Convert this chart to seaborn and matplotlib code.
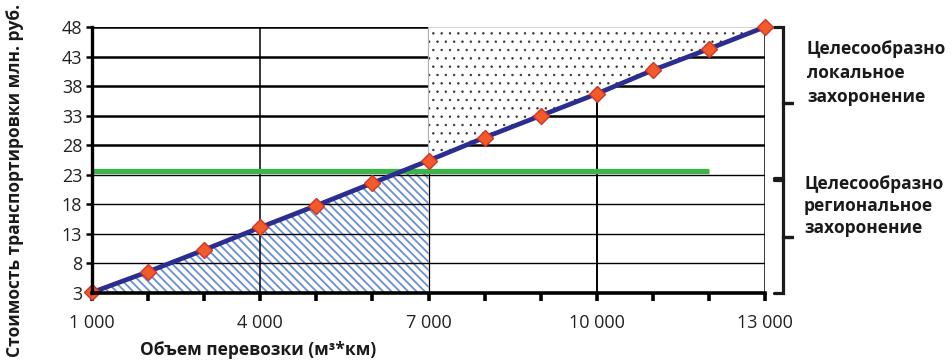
import numpy as np
import pandas as pd
import matplotlib
matplotlib.use("Agg")
import matplotlib as mpl
import matplotlib.pyplot as plt
import matplotlib.transforms as mtransforms
import seaborn as sns

# ---- data ----
volume = [1000, 2000, 3000, 4000, 5000, 6000, 7000, 8000, 9000, 10000, 11000, 12000, 13000]
cost = [3.1, 6.6, 10.3, 14.1, 17.8, 21.6, 25.4, 29.3, 33.0, 36.7, 40.7, 44.3, 48.0]
threshold = 23.7
threshold_x = [1000, 12000]
split_x = 7000
y_ticks = [3, 8, 13, 18, 23, 28, 33, 38, 43, 48]
x_major = [1000, 4000, 7000, 10000, 13000]
x_labels = ["1 000", "4 000", "7 000", "10 000", "13 000"]
y_label = "Стоимость транспортировки млн. руб."
x_label = "Объем перевозки (м³*км)"
text_local = "Целесообразно\nлокальное\nзахоронение"
text_regional = "Целесообразно\nрегиональное\nзахоронение"

sns.set_theme(style="white")
plt.rcParams["font.family"] = ["Open Sans", "DejaVu Sans"]

df = pd.DataFrame({"volume": volume, "cost": cost})

fig = plt.figure(figsize=(9.52, 3.63), dpi=100)
ax = fig.add_axes([92 / 952, 70 / 363, 673 / 952, 266 / 363])

ymin, ymax = y_ticks[0], y_ticks[-1]
xmin, xmax = volume[0], volume[-1]

# gridlines
hw = [1.0 if t <= 23 else 1.8 for t in y_ticks]
ax.hlines(y_ticks[1:], xmin, xmax, colors="black", linewidths=hw[1:], zorder=1)
ax.vlines([4000, 7000, 10000], ymin, ymax, colors="black", linewidths=[1.1, 0.9, 1.4], zorder=1)

def set_hlw(coll, lw):
    if hasattr(coll, "set_hatch_linewidth"):
        coll.set_hatch_linewidth(lw)

# hatched region (regional)
vol = np.array(volume, dtype=float)
cst = np.array(cost, dtype=float)
xs = np.linspace(xmin, split_x, 601)
ys = np.minimum(np.interp(xs, vol, cst), threshold)
mpl.rcParams["hatch.linewidth"] = 1.3
c1 = ax.fill_between(xs, ymin, ys, facecolor="none", edgecolor="#6b8fd4", hatch=r"\\\\",
                     linewidth=0, zorder=0.5)
set_hlw(c1, 1.3)

# dotted region (local)
mask = vol >= split_x
mpl.rcParams["hatch.linewidth"] = 0.5
c2 = ax.fill_between(vol[mask], cst[mask], ymax, facecolor="white", edgecolor="#333333",
                     hatch="..", linewidth=0, zorder=2)
set_hlw(c2, 0.5)
ax.fill_between(vol[mask], cst[mask], ymax, facecolor="none", edgecolor="#b0b0b0",
                linewidth=0.8, zorder=2.1)

# right border line
ax.vlines([xmax], ymin, ymax, colors="black", linewidths=1.8, zorder=2.5)

# threshold green line
ax.plot(threshold_x, [threshold, threshold], color="#3cb44b", lw=3.8, zorder=3,
        solid_capstyle="butt")

# main line
sns.lineplot(data=df, x="volume", y="cost", ax=ax, color="#2b2e8f", lw=3.4,
             marker="D", markersize=8, markerfacecolor="#f15a29",
             markeredgecolor="#d0352a", markeredgewidth=1.0, zorder=4, clip_on=False)

ax.set_xlim(xmin, xmax)
ax.set_ylim(ymin, ymax)
ax.set_yticks(y_ticks)
ax.set_yticklabels([str(t) for t in y_ticks], fontsize=13, color="#222222")
ax.set_xticks(x_major)
ax.set_xticklabels(x_labels, fontsize=13, color="#222222")
ax.set_xticks(volume, minor=True)
ax.tick_params(axis="x", which="both", direction="out", length=6, width=2.6,
               color="black", pad=9, bottom=True)
ax.tick_params(axis="y", which="major", direction="out", length=4, width=1.8,
               color="black", pad=3, left=True)
ax.set_xlabel("")
ax.set_ylabel("")
for s in ["top", "right"]:
    ax.spines[s].set_visible(False)
ax.spines["left"].set_linewidth(2.4)
ax.spines["bottom"].set_linewidth(2.6)
ax.spines["left"].set_color("black")
ax.spines["bottom"].set_color("black")
ax.spines["left"].set_zorder(5)
ax.spines["bottom"].set_zorder(5)

# axis labels
fig.text(15 / 952, 1 - 180 / 363, y_label, rotation=90, ha="center", va="center",
         fontsize=12.5, fontweight="bold", color="#1a1a1a")
fig.text(258 / 952, 1 - 350 / 363, x_label, ha="center", va="center",
         fontsize=12.5, fontweight="bold", color="#1a1a1a")

# braces
tr = mtransforms.blended_transform_factory(ax.transAxes, ax.transData)
def brace(y0, y1, ytip, xv=1.027, xh=1.013, xt=1.042):
    ax.plot([xh, xv, xv, xt, xv, xv, xh], [y0, y0, ytip, ytip, ytip, y1, y1],
            transform=tr, color="#1a1a1a", lw=2.3, clip_on=False,
            solid_joinstyle="miter")
brace(48.0, 22.5, 35.2)
brace(22.2, 3.0, 12.4)

fig.text(807 / 952, 1 - 73 / 363, text_local, ha="left", va="center", fontsize=12.5,
         fontweight="bold", color="#1a1a1a", linespacing=1.45)
fig.text(804 / 952, 1 - 206 / 363, text_regional, ha="left", va="center", fontsize=12.5,
         fontweight="bold", color="#1a1a1a", linespacing=1.3)

fig.savefig("out.png", dpi=100)
